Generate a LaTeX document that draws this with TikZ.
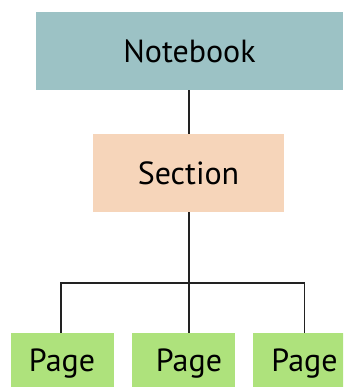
\documentclass[tikz,border=0pt]{standalone}
\usepackage{fontspec}
\setmainfont{PT Sans}
\definecolor{nbfill}{HTML}{9CC2C5}
\definecolor{secfill}{HTML}{F6D5BA}
\definecolor{pgfill}{HTML}{AEE27C}
\definecolor{linecol}{HTML}{222222}
\tikzset{
  box/.style={rectangle, draw=none, inner sep=0pt, font=\fontsize{32}{34}\selectfont, text=black},
  nbbox/.style={box, fill=nbfill, minimum width=307pt, minimum height=78pt},
  secbox/.style={box, fill=secfill, minimum width=191pt, minimum height=78pt},
  pgbox/.style={box, fill=pgfill, minimum width=103pt, minimum height=62pt},
  conn/.style={draw=linecol, line width=1.7pt}
}
\begin{document}
\begin{tikzpicture}[x=1pt,y=-1pt]
  \clip (0,0) rectangle (343,387);
  \useasboundingbox (0,0) rectangle (343,387);
  % boxes
  \node[nbbox] (nb) at (189.5,51) {Notebook};
  \node[secbox] (sec) at (188.5,173) {Section};
  \node[pgbox] (p1) at (62,364) {Page};
  \node[pgbox] (p2) at (183.5,364) {\hspace*{11pt}Page};
  \node[pgbox] (p3) at (304.5,364) {Page};
  % branch point of the tree
  \coordinate (bus) at (189,283);
  % connectors
  \draw[conn] (nb.south -| bus) -- (sec.north -| bus);
  \draw[conn] (sec.south -| bus) -- (bus);
  \draw[conn] (p1.north -| 61,0) |- (bus) -| (p3.north);
  \draw[conn] (bus) -- (p2.north -| bus);
\end{tikzpicture}
\end{document}
